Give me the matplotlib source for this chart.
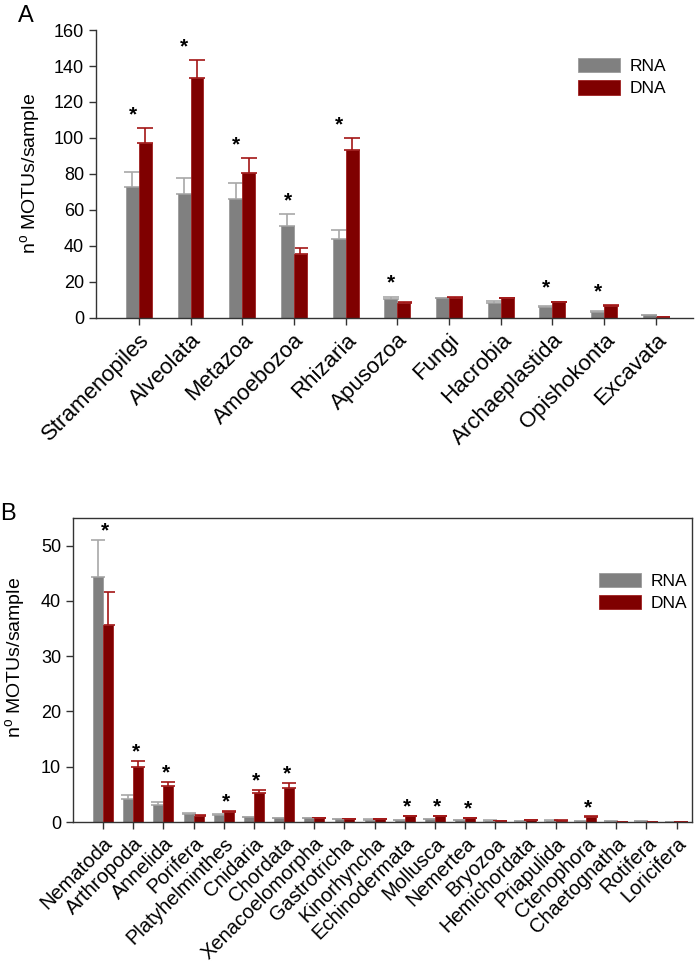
import numpy as np
import matplotlib
matplotlib.use("Agg")
import matplotlib.pyplot as plt

plt.rcParams['font.family'] = ['Liberation Sans', 'DejaVu Sans']
plt.rcParams['mathtext.fontset'] = 'custom'
plt.rcParams['mathtext.rm'] = 'Liberation Sans'
plt.rcParams['mathtext.it'] = 'Liberation Sans:italic'

# panel A: eukaryotic supergroups
cats_a = ['Stramenopiles', 'Alveolata', 'Metazoa', 'Amoebozoa', 'Rhizaria', 'Apusozoa',
          'Fungi', 'Hacrobia', 'Archaeplastida', 'Opishokonta', 'Excavata']
rna_a = [72.5, 69.0, 66.2, 50.8, 43.6, 10.2, 10.9, 8.5, 6.3, 3.3, 1.3]
rna_a_err = [8.7, 9.0, 8.5, 6.9, 5.0, 1.5, 0.3, 1.0, 0.3, 0.3, 0.2]
dna_a = [97.1, 133.3, 80.3, 35.6, 93.2, 8.2, 11.1, 10.8, 8.7, 6.7, 0.5]
dna_a_err = [8.2, 10.0, 8.3, 3.5, 6.7, 0.5, 0.3, 0.3, 0.3, 0.3, 0.1]
sig_a = [1, 1, 1, 1, 1, 1, 0, 0, 1, 1, 0]

# panel B: metazoan phyla
cats_b = ['Nematoda', 'Arthropoda', 'Annelida', 'Porifera', 'Platyhelminthes', 'Cnidaria',
          'Chordata', 'Xenacoelomorpha', 'Gastrotricha', 'Kinorhyncha', 'Echinodermata',
          'Mollusca', 'Nemertea', 'Bryozoa', 'Hemichordata', 'Priapulida', 'Ctenophora',
          'Chaetognatha', 'Rotifera', 'Loricifera']
rna_b = [44.4, 4.2, 3.15, 1.45, 1.27, 0.85, 0.7, 0.66, 0.55, 0.45, 0.4, 0.5, 0.3,
         0.25, 0.2, 0.25, 0.2, 0.15, 0.1, 0.05]
rna_b_err = [6.7, 0.6, 0.45, 0.15, 0.13, 0.1, 0.1, 0.05, 0.05, 0.05, 0.05, 0.05, 0.05,
             0.03, 0.03, 0.03, 0.03, 0.02, 0.02, 0.01]
dna_b = [35.7, 10.0, 6.6, 1.15, 1.75, 5.3, 6.2, 0.66, 0.55, 0.55, 1.0, 1.0, 0.75,
         0.15, 0.35, 0.25, 0.9, 0.05, 0.02, 0.02]
dna_b_err = [5.9, 1.0, 0.6, 0.05, 0.25, 0.5, 0.9, 0.05, 0.05, 0.05, 0.1, 0.1, 0.05,
             0.02, 0.03, 0.03, 0.1, 0.01, 0.01, 0.01]
sig_b = [1, 1, 1, 0, 1, 1, 1, 0, 0, 0, 1, 1, 1, 0, 0, 0, 1, 0, 0, 0]

RNA_COL = '#808080'
DNA_COL = '#7f0000'
RNA_ERR = '#a8a8a8'
DNA_ERR = '#a31515'
ylab = r'n$^{\mathrm{o}}$ MOTUs/sample'


def draw_panel(ax, cats, rna, rna_err, dna, dna_err, sig, width, capsize, star_off, star_dx,
               xfont):
    x = np.arange(len(cats))
    ax.bar(x - width / 2, rna, width, color=RNA_COL, edgecolor='#9a9a9a', linewidth=0.6,
           label='RNA', zorder=2)
    ax.bar(x + width / 2, dna, width, color=DNA_COL, edgecolor='#a02020', linewidth=0.6,
           label='DNA', zorder=2)
    ax.errorbar(x - width / 2, rna, yerr=[np.zeros(len(rna)), rna_err], fmt='none',
                ecolor=RNA_ERR, elinewidth=1.2, capsize=capsize, capthick=1.2, zorder=1)
    ax.errorbar(x + width / 2, dna, yerr=[np.zeros(len(dna)), dna_err], fmt='none',
                ecolor=DNA_ERR, elinewidth=1.2, capsize=capsize, capthick=1.2, zorder=1)
    for i in range(len(cats)):
        if sig[i]:
            top = max(rna[i] + rna_err[i], dna[i] + dna_err[i])
            ax.text(x[i] + star_dx, top + star_off, '*', ha='center', va='center',
                    fontsize=15, fontweight='bold')
    ax.set_xticks(x)
    ax.set_xticklabels(cats, rotation=45, ha='right', va='top', rotation_mode='anchor',
                       fontsize=xfont)
    ax.tick_params(axis='both', direction='out', length=5, width=1, color='#333333')
    ax.tick_params(axis='y', labelsize=13)
    for s in ax.spines.values():
        s.set_linewidth(1)
        s.set_color('#333333')


fig = plt.figure(figsize=(7, 9.69), dpi=100)

ax1 = fig.add_axes([0.137, 0.672, 0.853, 0.297])
draw_panel(ax1, cats_a, rna_a, rna_a_err, dna_a, dna_a_err, sig_a, 0.25, 6, 7.5, -0.12, 16)
ax1.set_xlim(-0.83, 10.72)
ax1.set_ylim(0, 160)
ax1.set_yticks(range(0, 161, 20))
ax1.spines['top'].set_visible(False)
ax1.spines['right'].set_visible(False)
ax1.set_ylabel(ylab, fontsize=14)
ax1.yaxis.set_label_coords(-0.09, 0.5)
ax1.legend(loc='upper left', bbox_to_anchor=(0.808, 0.903), frameon=False, fontsize=12.5,
           handlelength=2.4, handleheight=0.9, handletextpad=0.55, labelspacing=0.35,
           borderpad=0, borderaxespad=0)

ax2 = fig.add_axes([0.104, 0.1517, 0.884, 0.3137])
draw_panel(ax2, cats_b, rna_b, rna_b_err, dna_b, dna_b_err, sig_b, 0.33, 5, 1.6, 0.08, 14.5)
ax2.set_xlim(-1.0, 19.5)
ax2.set_ylim(0, 55)
ax2.set_yticks(range(0, 51, 10))
ax2.set_ylabel(ylab, fontsize=14)
ax2.yaxis.set_label_coords(-0.074, 0.54)
ax2.legend(loc='upper left', bbox_to_anchor=(0.851, 0.82), frameon=False, fontsize=12.5,
           handlelength=2.4, handleheight=0.9, handletextpad=0.55, labelspacing=0.35,
           borderpad=0, borderaxespad=0)

fig.text(0.026, 0.995, 'A', fontsize=17, va='top', ha='left')
fig.text(0.0, 0.481, 'B', fontsize=17, va='top', ha='left')

fig.savefig('out.png', dpi=100)
